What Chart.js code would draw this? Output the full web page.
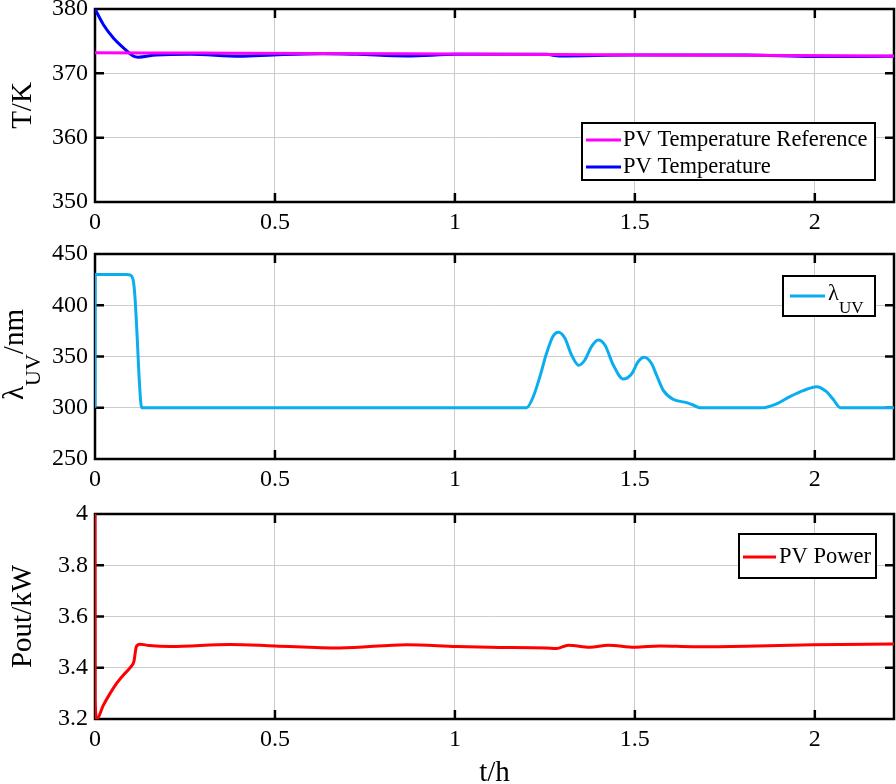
<!DOCTYPE html>
<html><head><meta charset="utf-8">
<script src="https://cdn.jsdelivr.net/npm/chart.js@4.4.1/dist/chart.umd.min.js"></script>
<style>
html,body{margin:0;padding:0;background:#fff;overflow:hidden;width:896px;height:784px;}
.w{position:absolute;left:0;width:896px;}
canvas{display:block;}
</style></head><body>
<div class="w" style="top:0;height:245px"><canvas id="c1" width="896" height="245"></canvas></div>
<div class="w" style="top:245px;height:260px"><canvas id="c2" width="896" height="260"></canvas></div>
<div class="w" style="top:505px;height:279px"><canvas id="c3" width="896" height="279"></canvas></div>
<script>
// ---- tick labels ----
const xTicks = [0, 0.5, 1, 1.5, 2];
const tempTicks = [350, 360, 370, 380];
const uvTicks = [250, 300, 350, 400, 450];
const powTicks = [3.2, 3.4, 3.6, 3.8, 4];

// ---- PV temperature (K) ----
const tempRefTime = [0, 0.3, 0.6, 1.0, 1.4, 1.8, 2.22];
const tempRef = [373.2, 373.15, 373.1, 373.0, 372.9, 372.8, 372.7];
const tempTime = [0, 0.023, 0.051, 0.079, 0.106, 0.12, 0.17, 0.264, 0.403, 0.495, 0.634, 0.727, 0.866, 1.005, 1.097, 1.255, 1.29, 1.495, 1.81, 1.995, 2.22];
const tempPV = [380, 377.6, 375.5, 373.97, 372.7, 372.5, 372.85, 372.95, 372.65, 372.85, 373.05, 372.95, 372.7, 372.95, 372.95, 372.95, 372.7, 372.85, 372.85, 372.6, 372.65];

// ---- UV wavelength (nm) ----
const uvTime = [0, 0.0005, 0.088, 0.0972, 0.106, 0.111, 0.1176, 0.123, 0.1296, 1.199, 1.2176, 1.236, 1.2546, 1.273, 1.288, 1.3056, 1.324, 1.344, 1.361, 1.3796, 1.398, 1.4167, 1.44, 1.468, 1.4907, 1.509, 1.526, 1.546, 1.56, 1.579, 1.606, 1.644, 1.662, 1.68, 1.856, 1.8935, 1.9306, 1.9676, 2.005, 2.0324, 2.051, 2.071, 2.22];
const uvVal = [300, 430, 430, 429.5, 424.6, 408.3, 366, 327, 300, 300, 310.8, 330.3, 353.1, 370, 373.6, 367.7, 351.5, 341.4, 346.6, 359.6, 366, 361.2, 341.7, 328, 332.9, 344.9, 349.2, 343.4, 332, 317, 308.3, 305, 302.7, 300, 300, 303.7, 310.8, 316.7, 320.6, 315.7, 308.2, 300, 300];

// ---- PV power (kW) ----
const powTime = [0, 0.0005, 0.005, 0.023, 0.042, 0.06, 0.079, 0.1, 0.108, 0.115, 0.125, 0.15, 0.21, 0.375, 0.5, 0.681, 0.866, 1.005, 1.097, 1.255, 1.282, 1.315, 1.375, 1.426, 1.5, 1.57, 1.662, 1.81, 1.995, 2.22];
const powVal = [4.0, 3.27, 3.2, 3.253, 3.3, 3.339, 3.372, 3.404, 3.424, 3.483, 3.492, 3.487, 3.483, 3.491, 3.485, 3.477, 3.49, 3.483, 3.48, 3.477, 3.475, 3.488, 3.48, 3.488, 3.48, 3.485, 3.482, 3.484, 3.49, 3.493];

const X_MAX = 2.22;
const FONT = "'Liberation Serif','Times New Roman',serif";
Chart.defaults.font.family = FONT;
Chart.defaults.color = '#000';

const pts = (xs, ys) => xs.map((x, i) => ({x, y: ys[i]}));

const framePlugin = {
  id: 'frame',
  beforeDatasetsDraw(chart) {
    const {ctx, chartArea: a, scales: {x, y}} = chart;
    ctx.save();
    ctx.strokeStyle = '#000';
    ctx.lineWidth = 2.5;
    ctx.beginPath();
    x.ticks.forEach(t => {
      const p = x.getPixelForValue(t.value);
      if (p < a.left + 2 || p > a.right - 2) return;
      ctx.moveTo(p, a.top); ctx.lineTo(p, a.top + 9);
      ctx.moveTo(p, a.bottom); ctx.lineTo(p, a.bottom - 9);
    });
    y.ticks.forEach(t => {
      const p = y.getPixelForValue(t.value);
      if (p < a.top + 2 || p > a.bottom - 2) return;
      ctx.moveTo(a.left, p); ctx.lineTo(a.left + 9, p);
      ctx.moveTo(a.right, p); ctx.lineTo(a.right - 9, p);
    });
    ctx.stroke();
    ctx.strokeRect(a.left, a.top, a.right - a.left, a.bottom - a.top);
    ctx.restore();
  }
};

const legendPlugin = {
  id: 'boxLegend',
  afterDraw(chart, args, o) {
    if (!o || !o.items) return;
    const ctx = chart.ctx;
    ctx.save();
    ctx.fillStyle = '#fff';
    ctx.fillRect(o.x, o.y, o.w, o.h);
    ctx.strokeStyle = '#000';
    ctx.lineWidth = 2;
    ctx.strokeRect(o.x, o.y, o.w, o.h);
    o.items.forEach(it => {
      const ds = chart.data.datasets[it.ds];
      ctx.strokeStyle = ds.borderColor;
      ctx.lineWidth = 3;
      ctx.beginPath();
      ctx.moveTo(o.lx0, it.y); ctx.lineTo(o.lx1, it.y);
      ctx.stroke();
      ctx.fillStyle = '#000';
      if (it.sub) {
        ctx.textBaseline = 'alphabetic';
        ctx.font = o.size + 'px ' + FONT;
        ctx.fillText(ds.label, o.tx, it.y + it.base);
        const w = ctx.measureText(ds.label).width;
        ctx.font = o.subSize + 'px ' + FONT;
        ctx.fillText(it.sub, o.tx + w, it.y + it.base + o.subShift);
      } else {
        ctx.textBaseline = 'middle';
        ctx.font = o.size + 'px ' + FONT;
        ctx.fillText(ds.label, o.tx, it.y);
      }
    });
    ctx.restore();
  }
};

const subTitlePlugin = {
  id: 'subTitle',
  afterDraw(chart, args, o) {
    if (!o || !o.main) return;
    const {ctx, chartArea: a} = chart;
    ctx.save();
    ctx.translate(o.x, (a.top + a.bottom) / 2 + o.dy);
    ctx.rotate(-Math.PI / 2);
    ctx.fillStyle = '#000';
    ctx.textBaseline = 'alphabetic';
    ctx.font = o.size + 'px ' + FONT;
    const w1 = ctx.measureText(o.main).width;
    const w3 = ctx.measureText(o.rest).width;
    ctx.font = o.subSize + 'px ' + FONT;
    const w2 = ctx.measureText(o.sub).width;
    const sx = -(w1 + w2 + w3) / 2;
    ctx.font = o.size + 'px ' + FONT;
    ctx.fillText(o.main, sx, 0);
    ctx.fillText(o.rest, sx + w1 + w2, 0);
    ctx.font = o.subSize + 'px ' + FONT;
    ctx.fillText(o.sub, sx + w1, o.subShift);
    ctx.restore();
  }
};

function makeChart(id, datasets, yMin, yMax, yTickVals, yTitle, xCfg, pluginOpts) {
  const grid = {color: '#cccccc', lineWidth: 1, drawTicks: false};
  return new Chart(document.getElementById(id), {
    type: 'line',
    data: {datasets},
    plugins: [framePlugin, legendPlugin, subTitlePlugin],
    options: {
      responsive: false,
      animation: false,
      parsing: false,
      normalized: true,
      layout: {padding: {top: 9, right: 2, left: 0, bottom: xCfg.padBottom}},
      elements: {point: {radius: 0}, line: {borderWidth: 3, cubicInterpolationMode: 'monotone'}},
      plugins: Object.assign({legend: {display: false}, tooltip: {enabled: false}}, pluginOpts),
      scales: {
        x: {
          type: 'linear', min: 0, max: X_MAX,
          afterBuildTicks: s => { s.ticks = xTicks.map(v => ({value: v})); },
          afterFit: s => { s.height = xCfg.h; s.paddingLeft = 0; s.paddingRight = 0; },
          grid, border: {display: false},
          ticks: {font: {size: 24}, padding: 6, maxRotation: 0, autoSkip: false, callback: v => String(v)},
          title: xCfg.title ? {display: true, text: xCfg.title, font: {size: 29}, padding: {top: 0, bottom: -7}} : {display: false}
        },
        y: {
          type: 'linear', min: yMin, max: yMax,
          afterBuildTicks: s => { s.ticks = yTickVals.map(v => ({value: v})); },
          afterFit: s => { s.width = 95; s.paddingTop = 0; s.paddingBottom = 0; },
          grid, border: {display: false},
          ticks: {font: {size: 24}, padding: 7, autoSkip: false, callback: v => String(v)},
          title: yTitle ? {display: true, text: yTitle, font: {size: 29}, padding: {top: 6, bottom: 0}} : {display: false}
        }
      }
    }
  });
}

// Chart 1: temperature
makeChart('c1', [
  {label: 'PV Temperature Reference', data: pts(tempRefTime, tempRef), borderColor: '#ff00ff'},
  {label: 'PV Temperature', data: pts(tempTime, tempPV), borderColor: '#0000ff'}
], 350, 380, tempTicks, 'T/K', {h: 40, padBottom: 3}, {
  boxLegend: {x: 582, y: 123, w: 293, h: 57, lx0: 586, lx1: 621, tx: 623, size: 22.5,
    items: [{ds: 0, y: 140}, {ds: 1, y: 167}]}
});

// Chart 2: UV wavelength
makeChart('c2', [
  {label: 'λ', data: pts(uvTime, uvVal), borderColor: '#0aaeef'}
], 250, 450, uvTicks, null, {h: 40, padBottom: 6}, {
  boxLegend: {x: 783, y: 31, w: 92, h: 40, lx0: 790, lx1: 825, tx: 828, size: 22.5, subSize: 17, subShift: 13,
    items: [{ds: 0, y: 51, sub: 'UV', base: 4}]},
  subTitle: {x: 23, dy: -2, main: 'λ', sub: 'UV', rest: '/nm', size: 29, subSize: 22, subShift: 17}
});

// Chart 3: PV power
makeChart('c3', [
  {label: 'PV Power', data: pts(powTime, powVal), borderColor: '#ff0000'}
], 3.2, 4, powTicks, 'Pout/kW', {h: 65, padBottom: 0, title: 't/h'}, {
  boxLegend: {x: 739, y: 29, w: 137, h: 44, lx0: 743, lx1: 776, tx: 779, size: 22.5,
    items: [{ds: 0, y: 52}]}
});
</script>
</body></html>
